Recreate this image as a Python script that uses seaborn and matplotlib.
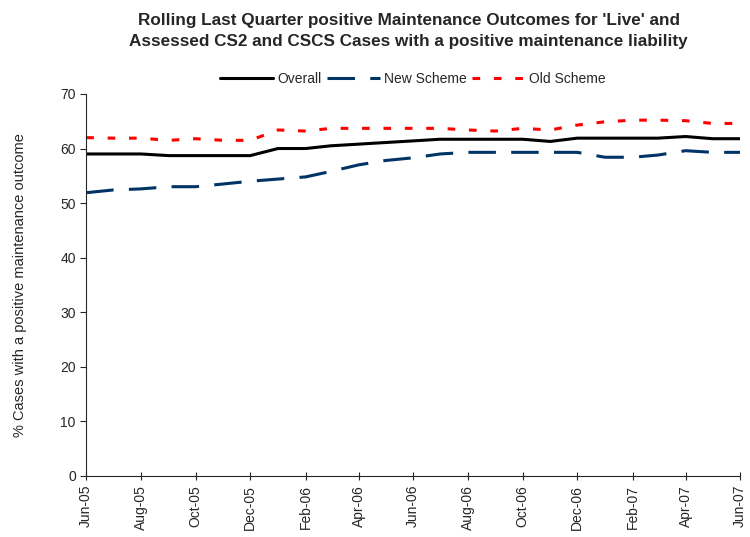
import pandas as pd
import matplotlib
matplotlib.use('Agg')
import matplotlib.pyplot as plt
import matplotlib.dates as mdates
from matplotlib.lines import Line2D
import seaborn as sns

months = pd.date_range("2005-06-01", "2007-06-01", freq="MS")

overall = [59.0, 59.0, 59.0, 58.7, 58.7, 58.7, 58.7, 60.0, 60.0, 60.5, 60.8, 61.1, 61.4,
           61.7, 61.7, 61.7, 61.7, 61.3, 61.9, 61.9, 61.9, 61.9, 62.2, 61.8, 61.8]
new_scheme = [51.9, 52.4, 52.6, 53.0, 53.0, 53.5, 54.0, 54.4, 54.8, 55.8, 57.0, 57.8, 58.3,
              59.0, 59.3, 59.3, 59.3, 59.3, 59.3, 58.4, 58.4, 58.8, 59.6, 59.3, 59.3]
old_scheme = [62.0, 61.9, 61.9, 61.5, 61.8, 61.5, 61.5, 63.4, 63.2, 63.7, 63.7, 63.7, 63.7,
              63.7, 63.4, 63.2, 63.7, 63.4, 64.3, 64.9, 65.2, 65.2, 65.1, 64.6, 64.6]

df = pd.DataFrame({"month": months, "Overall": overall,
                   "New Scheme": new_scheme, "Old Scheme": old_scheme})
long = df.melt(id_vars="month", var_name="series", value_name="pct")

sns.set_style("ticks")
plt.rcParams['font.family'] = ['Liberation Sans', 'DejaVu Sans']

fig, ax = plt.subplots(figsize=(7.5, 5.37), dpi=100)
fig.subplots_adjust(left=0.115, right=0.987, top=0.825, bottom=0.114)

palette = {"Overall": "black", "New Scheme": "#003366", "Old Scheme": "#ff0000"}
sns.lineplot(data=long, x="month", y="pct", hue="series", palette=palette,
             linewidth=2.2, ax=ax, legend=False)
ax.lines[1].set_dashes([9, 5])
ax.lines[2].set_dashes([2.5, 4.5])

handles = [Line2D([], [], color="black", lw=2.2),
           Line2D([], [], color="#003366", lw=2.2, dashes=[9, 5]),
           Line2D([], [], color="#ff0000", lw=2.2, dashes=[2.5, 4.5])]
ax.legend(handles, ["Overall", "New Scheme", "Old Scheme"], loc="lower center",
          bbox_to_anchor=(0.5, 1.0), ncol=3, frameon=False, fontsize=10,
          handlelength=3.8, columnspacing=0.4, handletextpad=0.3, borderaxespad=0.2)

ax.set_xlim(months[0], months[-1])
ax.set_ylim(0, 70)
ax.set_yticks(range(0, 71, 10))
ax.xaxis.set_major_locator(mdates.MonthLocator(bymonth=[2, 4, 6, 8, 10, 12]))
ax.xaxis.set_major_formatter(mdates.DateFormatter("%b-%y"))
plt.setp(ax.get_xticklabels(), rotation=90, fontsize=10)
plt.setp(ax.get_yticklabels(), fontsize=10)
ax.tick_params(axis="x", direction="inout", length=6)
ax.tick_params(axis="y", length=4)
ax.set_xlabel("")
ax.set_ylabel("% Cases with a positive maintenance outcome", fontsize=10.5, labelpad=24)
sns.despine(ax=ax)

fig.text(0.545, 0.942, "Rolling Last Quarter positive Maintenance Outcomes for 'Live' and\n"
         "Assessed CS2 and CSCS Cases with a positive maintenance liability",
         ha="center", va="center", fontsize=12.3, fontweight="bold", linespacing=1.45)

plt.savefig("out.png", dpi=100)
